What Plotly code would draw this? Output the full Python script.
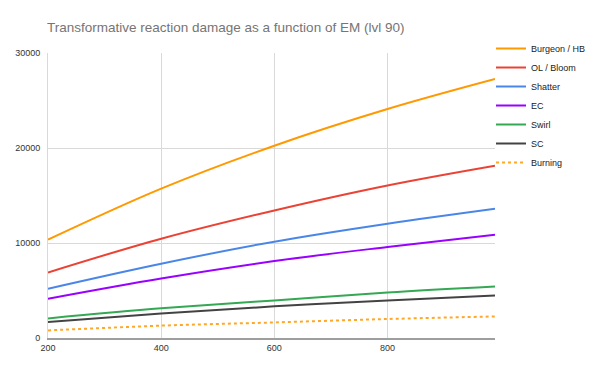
import plotly.graph_objects as go

em = [200, 400, 600, 800, 990]
burgeon_hb = [10350, 15720, 20240, 24100, 27260]
ol_bloom = [6900, 10450, 13430, 16060, 18140]
shatter = [5190, 7820, 10140, 12030, 13610]
ec = [4140, 6270, 8100, 9580, 10870]
swirl = [2060, 3120, 3960, 4800, 5430]
sc = [1690, 2590, 3330, 3960, 4480]
burning = [800, 1300, 1640, 2000, 2270]

series = [
    ("Burgeon / HB", burgeon_hb, "#ff9900", "solid"),
    ("OL / Bloom", ol_bloom, "#ea4335", "solid"),
    ("Shatter", shatter, "#4a86e8", "solid"),
    ("EC", ec, "#9900ff", "solid"),
    ("Swirl", swirl, "#34a853", "solid"),
    ("SC", sc, "#434343", "solid"),
    ("Burning", burning, "#ffa726", "dot"),
]

fig = go.Figure()
for name, vals, color, dash in series:
    fig.add_trace(go.Scatter(
        x=em, y=vals, name=name, mode="lines",
        line=dict(color=color, width=2, dash=dash, shape="spline", smoothing=1.0),
    ))

fig.update_layout(
    width=602, height=372,
    margin=dict(l=48, r=107, t=53, b=34, autoexpand=False),
    paper_bgcolor="white", plot_bgcolor="white",
    font=dict(family="Arial", size=9, color="#333333"),
    title=dict(
        text="Transformative reaction damage as a function of EM (lvl 90)",
        x=47 / 602, xanchor="left", xref="container",
        y=1 - 27 / 372, yanchor="middle", yref="container",
        font=dict(family="Arial", size=13.5, color="#757575"),
    ),
    legend=dict(
        x=491 / 602, xanchor="left", xref="container",
        y=1 - 34 / 372, yanchor="top", yref="container",
        font=dict(size=9, color="#222222"),
        itemwidth=30, bgcolor="rgba(0,0,0,0)",
    ),
    showlegend=True,
)
fig.update_xaxes(
    range=[200, 990], tickvals=[200, 400, 600, 800],
    showgrid=True, gridcolor="#d9d9d9", gridwidth=1,
    showline=True, linecolor="#9e9e9e", linewidth=2,
    zeroline=False, ticks="", tickfont=dict(size=9, color="#333333"),
    automargin=False,
)
fig.update_yaxes(
    range=[0, 30000], dtick=10000,
    showgrid=True, gridcolor="#d9d9d9", gridwidth=1,
    showline=True, linecolor="#d9d9d9", linewidth=1,
    zeroline=False, ticks="", tickfont=dict(size=9, color="#333333"),
    tickformat="d", ticklabelstandoff=5, automargin=False,
)

fig.write_html("out.html", config={"displayModeBar": False},
               post_script="document.body.style.margin='0';")
